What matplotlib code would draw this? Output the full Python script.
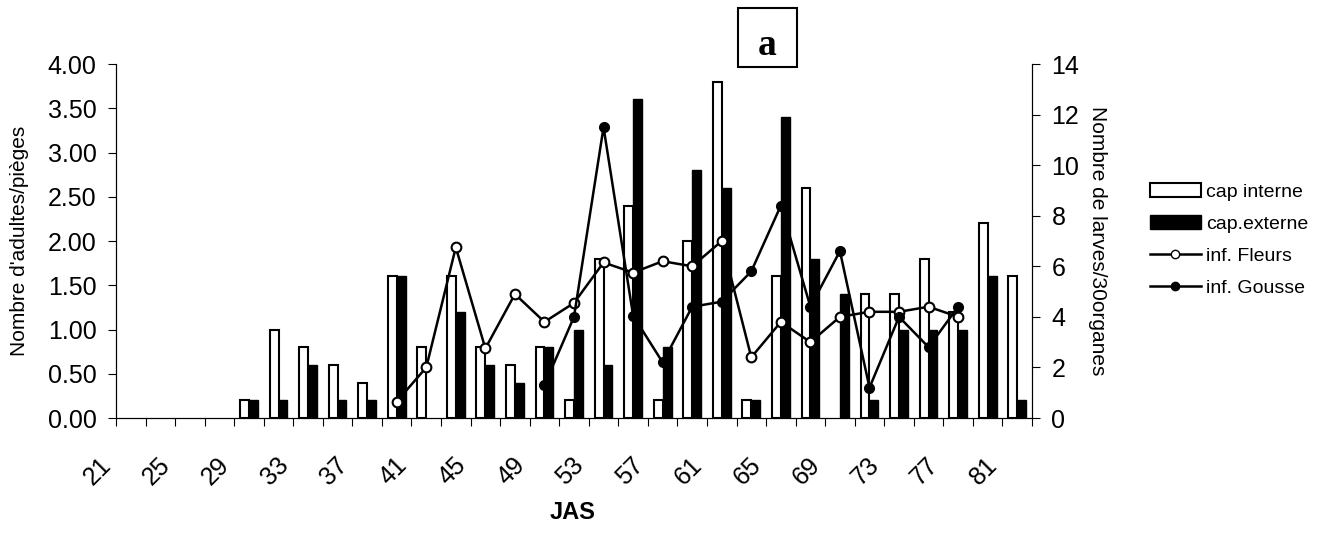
import numpy as np
import matplotlib.pyplot as plt
from matplotlib.patches import Patch, Rectangle
from matplotlib.lines import Line2D

nan = np.nan

# jours apres semis (every 2 days)
days = list(range(21, 82, 2))

# adults per trap (left axis)
cap_interne = [0, 0, 0, 0, 0.2, 1.0, 0.8, 0.6, 0.4, 1.6, 0.8, 1.6, 0.8, 0.6, 0.8, 0.2,
               1.8, 2.4, 0.2, 2.0, 3.8, 0.2, 1.6, 2.6, 0, 1.4, 1.4, 1.8, 1.2, 2.2, 1.6]
cap_externe = [0, 0, 0, 0, 0.2, 0.2, 0.6, 0.2, 0.2, 1.6, 0, 1.2, 0.6, 0.4, 0.8, 1.0,
               0.6, 3.6, 0.8, 2.8, 2.6, 0.2, 3.4, 1.8, 1.4, 0.2, 1.0, 1.0, 1.0, 1.6, 0.2]

# larvae per 30 organs (right axis)
inf_fleurs = [nan, nan, nan, nan, nan, nan, nan, nan, nan, 0.65, 2.0, 6.75, 2.75, 4.9, 3.8, 4.55,
              6.15, 5.75, 6.2, 6.0, 7.0, 2.4, 3.8, 3.0, 4.0, 4.2, 4.2, 4.4, 4.0, nan, nan]
inf_gousse = [nan, nan, nan, nan, nan, nan, nan, nan, nan, nan, nan, nan, nan, nan, 1.3, 4.0,
              11.5, 4.05, 2.2, 4.4, 4.6, 5.8, 8.4, 4.4, 6.6, 1.2, 4.0, 2.8, 4.4, nan, nan]

plt.rcParams['font.family'] = 'Liberation Sans'

fig, ax = plt.subplots(figsize=(13.3, 5.33), dpi=100)
fig.subplots_adjust(left=116/1330, right=1032/1330, bottom=115/533, top=469/533)

x = np.arange(len(days))
w = 0.3
# empty bars are not drawn (no stub at zero)
ci = np.where(np.array(cap_interne) > 0, cap_interne, nan)
ce = np.where(np.array(cap_externe) > 0, cap_externe, nan)
ax.bar(x - w/2, ci, w, color='white', edgecolor='black', linewidth=1.5, zorder=2)
ax.bar(x + w/2, ce, w, color='black', edgecolor='black', linewidth=1, zorder=2)
ax.set_xlim(-0.5, len(days) - 0.5)
ax.set_ylim(0, 4)
ax.set_yticks(np.arange(0, 4.01, 0.5))
ax.set_yticklabels(['%.2f' % v for v in np.arange(0, 4.01, 0.5)], fontsize=18)

ax.set_xticks(np.arange(-0.5, len(days)))
xlabs = [str(d) if k % 2 == 0 else '' for k, d in enumerate(days)] + ['']
ax.set_xticklabels(xlabs, fontsize=18, rotation=45, ha='right', va='top')
ax.tick_params(axis='x', length=6, pad=19)
ax.tick_params(axis='y', length=6, pad=8)

ax2 = ax.twinx()
ax2.plot(x, inf_fleurs, '-o', color='black', mfc='white', mec='black', ms=7, mew=1.5, lw=1.8)
ax2.plot(x, inf_gousse, '-o', color='black', mfc='black', mec='black', ms=7, lw=1.8)
ax2.set_ylim(0, 14)
ax2.set_yticks(range(0, 15, 2))
ax2.tick_params(axis='y', length=6, pad=8, labelsize=18)

for a in (ax, ax2):
    a.spines['top'].set_visible(False)

ax.set_ylabel("Nombre d'adultes/pièges", fontsize=15, va='center')
ax.yaxis.set_label_coords(-0.105, 0.5)
ax2.set_ylabel('Nombre de larves/30organes', fontsize=15, rotation=270, va='center', ha='center')
ax2.yaxis.set_label_coords(1.071, 0.5)
ax.set_xlabel('JAS', fontsize=17, fontweight='bold', va='center')
ax.xaxis.set_label_coords(0.498, -0.268)

handles = [Patch(fc='white', ec='black', lw=1.5),
           Patch(fc='black', ec='black'),
           Line2D([], [], color='black', marker='o', mfc='white', mec='black', ms=6, lw=1.8),
           Line2D([], [], color='black', marker='o', mfc='black', ms=6, lw=1.8)]
labels = ['cap interne', 'cap.externe', 'inf. Fleurs', 'inf. Gousse']
fig.legend(handles, labels, loc='center left', bbox_to_anchor=(1150/1330, 1 - 240/533),
           frameon=False, fontsize=14, handlelength=2.6, handletextpad=0.3,
           labelspacing=0.75, borderpad=0, borderaxespad=0)

# panel letter
fig.patches.append(Rectangle((738/1330, 1 - 67/533), 59/1330, 59/533, transform=fig.transFigure,
                             fill=False, ec='black', lw=1.5))
fig.text(767.5/1330, 1 - 55/533, 'a', family='Liberation Serif', fontweight='bold',
         fontsize=27, ha='center', va='baseline')

fig.savefig('out.png', dpi=100)
